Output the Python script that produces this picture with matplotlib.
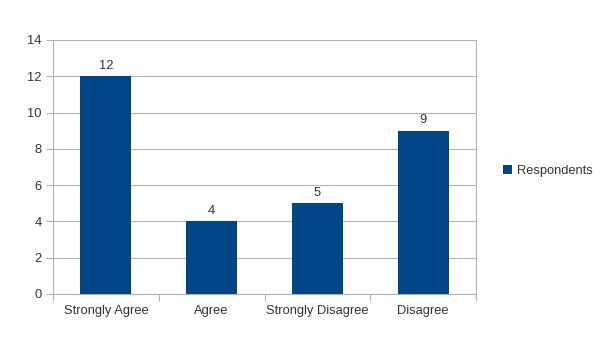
import matplotlib.pyplot as plt
from matplotlib.ticker import MultipleLocator

categories = ["Strongly Agree", "Agree", "Strongly Disagree", "Disagree"]
respondents = [12, 4, 5, 9]

bar_color = "#004586"
grid_color = "#b3b3b3"
text_color = "#333333"
fs = 9.3

plt.rcParams['font.family'] = ['Liberation Sans', 'DejaVu Sans']

fig = plt.figure(figsize=(6.05, 3.41), dpi=100)
ax = fig.add_axes([53 / 605, 47 / 341, 423 / 605, 254 / 341])

x = range(len(categories))
bars = ax.bar(x, respondents, width=0.48, color=bar_color, label="Respondents", zorder=3)
for b, v in zip(bars, respondents):
    ax.text(b.get_x() + b.get_width() / 2, v + 0.25, str(v), ha='center', va='bottom',
            fontsize=fs, color=text_color)

ax.set_xlim(-0.5, len(categories) - 0.5)
ax.set_ylim(0, 14)
ax.yaxis.set_major_locator(MultipleLocator(2))
ax.grid(axis='y', color=grid_color, linewidth=0.8, zorder=0)

# category separators as ticks, labels in the middle
ax.set_xticks([i - 0.5 for i in range(len(categories) + 1)])
ax.set_xticklabels([])
ax.set_xticks(list(x), minor=True)
ax.set_xticklabels(categories, minor=True)
ax.tick_params(axis='x', which='major', length=5, color=grid_color)
ax.tick_params(axis='x', which='minor', length=0, pad=8, labelsize=fs, labelcolor=text_color)
ax.tick_params(axis='y', length=5, color=grid_color, labelsize=fs, labelcolor=text_color, pad=3)

for side in ['left', 'bottom', 'right', 'top']:
    ax.spines[side].set_color(grid_color)
    ax.spines[side].set_linewidth(0.8)
ax.spines['top'].set_visible(False)

fig.legend(handles=[bars], labels=["Respondents"], loc='center left',
           bbox_to_anchor=(491 / 605, 1 - 171 / 341), frameon=False, fontsize=fs,
           handlelength=0.7, handleheight=0.7, handletextpad=0.4, labelcolor=text_color)

fig.savefig("out.png", dpi=100)
